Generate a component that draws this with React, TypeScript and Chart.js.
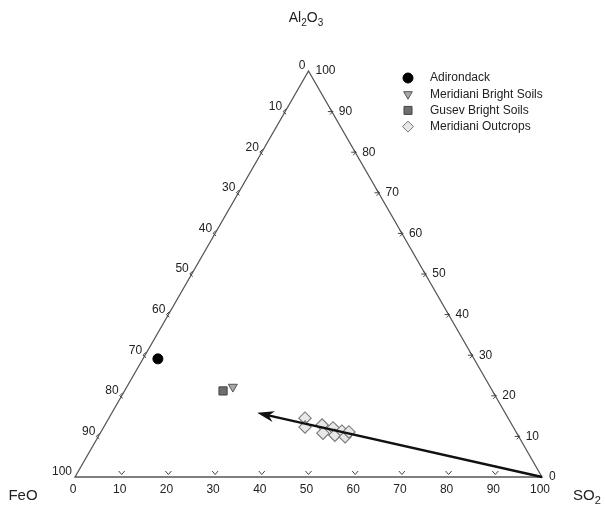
import React, { useEffect, useRef } from "react";
import { Chart, registerables } from "chart.js";

Chart.register(...registerables);

// Series names
const seriesNames = ["Adirondack", "Meridiani Bright Soils", "Gusev Bright Soils", "Meridiani Outcrops"];

// Compositions in percent: FeO, SO2, Al2O3
const adirondackFeO = [67.7];
const adirondackSO2 = [3.2];
const adirondackAl2O3 = [29.1];

const meridianiSoilFeO = [55.1];
const meridianiSoilSO2 = [22.7];
const meridianiSoilAl2O3 = [22.2];

const gusevSoilFeO = [57.7];
const gusevSoilSO2 = [21.1];
const gusevSoilAl2O3 = [21.2];

const outcropFeO = [43.5, 44.6, 40.7, 41.5, 38.7, 39.2, 37.2, 37.2, 35.8];
const outcropSO2 = [42.0, 43.1, 46.5, 47.7, 49.2, 50.5, 51.5, 52.9, 53.1];
const outcropAl2O3 = [14.5, 12.3, 12.8, 10.8, 12.1, 10.3, 11.3, 9.9, 11.1];

// Arrow from SO2 apex towards the outcrop trend (FeO, SO2, Al2O3)
const arrowStart = [0, 100, 0];
const arrowEnd = [53.1, 31.1, 15.8];

// Tick values for all three axes
const tickValues = [0, 10, 20, 30, 40, 50, 60, 70, 80, 90, 100];

function toXY(feo: number, so2: number, al: number) {
  const s = feo + so2 + al;
  const a = al / s;
  const b = so2 / s;
  return { x: b + a / 2, y: a };
}

function pts(feo: number[], so2: number[], al: number[]) {
  return feo.map((f, i) => toXY(f, so2[i], al[i]));
}

const FONT = '"Liberation Sans", Arial, sans-serif';

function drawMarker(ctx: CanvasRenderingContext2D, kind: string, x: number, y: number, fill: string, stroke: string) {
  ctx.save();
  ctx.fillStyle = fill;
  ctx.strokeStyle = stroke;
  ctx.lineWidth = 1;
  ctx.beginPath();
  if (kind === "circle") {
    ctx.arc(x, y, 5, 0, Math.PI * 2);
  } else if (kind === "tri") {
    const r = 5;
    ctx.moveTo(x, y + r);
    ctx.lineTo(x - r * 0.866, y - r / 2);
    ctx.lineTo(x + r * 0.866, y - r / 2);
    ctx.closePath();
  } else if (kind === "rect") {
    ctx.rect(x - 4, y - 4, 8, 8);
  } else {
    const r = 5.5;
    ctx.moveTo(x, y - r);
    ctx.lineTo(x + r, y);
    ctx.lineTo(x, y + r);
    ctx.lineTo(x - r, y);
    ctx.closePath();
  }
  ctx.fill();
  ctx.stroke();
  ctx.restore();
}

function drawSubText(ctx: CanvasRenderingContext2D, parts: [string, boolean][], cx: number, cy: number, size: number) {
  const big = `${size}px ${FONT}`;
  const small = `${Math.round(size * 0.7)}px ${FONT}`;
  let total = 0;
  for (const [t, sub] of parts) {
    ctx.font = sub ? small : big;
    total += ctx.measureText(t).width;
  }
  let x = cx - total / 2;
  ctx.textAlign = "left";
  ctx.textBaseline = "middle";
  for (const [t, sub] of parts) {
    ctx.font = sub ? small : big;
    ctx.fillText(t, x, sub ? cy + size * 0.35 : cy);
    x += ctx.measureText(t).width;
  }
}

const ternaryPlugin = {
  id: "ternary",
  beforeDatasetsDraw(chart: any) {
    const ctx: CanvasRenderingContext2D = chart.ctx;
    const xs = chart.scales.x;
    const ys = chart.scales.y;
    const P = (f: number, s: number, a: number) => {
      const p = toXY(f, s, a);
      return { x: xs.getPixelForValue(p.x), y: ys.getPixelForValue(p.y) };
    };
    const L = P(100, 0, 0);
    const R = P(0, 100, 0);
    const T = P(0, 0, 100);
    ctx.save();
    ctx.strokeStyle = "#555";
    ctx.lineWidth = 1.3;
    ctx.beginPath();
    ctx.moveTo(L.x, L.y);
    ctx.lineTo(R.x, R.y);
    ctx.lineTo(T.x, T.y);
    ctx.closePath();
    ctx.stroke();

    ctx.fillStyle = "#222";
    ctx.font = `12px ${FONT}`;
    ctx.lineWidth = 1;
    ctx.strokeStyle = "#444";
    for (const v of tickValues) {
      // bottom axis: SO2
      const b = P(100 - v, v, 0);
      ctx.textAlign = "center";
      ctx.textBaseline = "middle";
      ctx.fillText(String(v), b.x - 2, b.y + 13);
      // left axis: FeO
      const l = P(v, 0, 100 - v);
      ctx.textAlign = "right";
      ctx.fillText(String(v), l.x - 3, l.y - 5);
      // right axis: Al2O3
      const r = P(0, 100 - v, v);
      ctx.textAlign = "left";
      ctx.fillText(String(v), r.x + 7, r.y);
      if (v > 0 && v < 100) {
        ctx.beginPath();
        ctx.moveTo(b.x - 3, b.y - 6);
        ctx.lineTo(b.x, b.y - 2.5);
        ctx.lineTo(b.x + 3, b.y - 6);
        ctx.moveTo(l.x + 1, l.y - 3);
        ctx.lineTo(l.x - 2, l.y);
        ctx.lineTo(l.x + 1, l.y + 2.5);
        ctx.moveTo(r.x - 4, r.y);
        ctx.lineTo(r.x + 1, r.y);
        ctx.moveTo(r.x - 2, r.y - 3);
        ctx.lineTo(r.x + 1, r.y);
        ctx.lineTo(r.x - 2, r.y + 3);
        ctx.stroke();
      }
    }
    ctx.restore();
  },
  afterDatasetsDraw(chart: any) {
    const ctx: CanvasRenderingContext2D = chart.ctx;
    const xs = chart.scales.x;
    const ys = chart.scales.y;
    const a0 = toXY(arrowStart[0], arrowStart[1], arrowStart[2]);
    const a1 = toXY(arrowEnd[0], arrowEnd[1], arrowEnd[2]);
    const x0 = xs.getPixelForValue(a0.x);
    const y0 = ys.getPixelForValue(a0.y);
    const x1 = xs.getPixelForValue(a1.x);
    const y1 = ys.getPixelForValue(a1.y);
    const ang = Math.atan2(y1 - y0, x1 - x0);
    const headLen = 17;
    const headW = 5.5;
    ctx.save();
    ctx.strokeStyle = "#111";
    ctx.fillStyle = "#111";
    ctx.lineWidth = 2.4;
    ctx.beginPath();
    ctx.moveTo(x0, y0);
    ctx.lineTo(x1 - Math.cos(ang) * 8, y1 - Math.sin(ang) * 8);
    ctx.stroke();
    const bx = x1 - Math.cos(ang) * headLen;
    const by = y1 - Math.sin(ang) * headLen;
    const nx = -Math.sin(ang);
    const ny = Math.cos(ang);
    const mx = x1 - Math.cos(ang) * headLen * 0.7;
    const my = y1 - Math.sin(ang) * headLen * 0.7;
    ctx.beginPath();
    ctx.moveTo(x1, y1);
    ctx.lineTo(bx + nx * headW, by + ny * headW);
    ctx.lineTo(mx, my);
    ctx.lineTo(bx - nx * headW, by - ny * headW);
    ctx.closePath();
    ctx.fill();
    ctx.restore();
  },
  afterDraw(chart: any) {
    const ctx: CanvasRenderingContext2D = chart.ctx;
    ctx.save();
    ctx.fillStyle = "#222";
    drawSubText(ctx, [["Al", false], ["2", true], ["O", false], ["3", true]], 306, 18, 14);
    drawSubText(ctx, [["FeO", false]], 23, 496, 15);
    drawSubText(ctx, [["SO", false], ["2", true]], 587, 496, 15);

    // legend
    const kinds = ["circle", "tri", "rect", "diamond"];
    const fills = ["#000", "#a8a8a8", "#6e6e6e", "#e8e8e8"];
    const strokes = ["#000", "#555", "#444", "#777"];
    chart.data.datasets.forEach((ds: any, i: number) => {
      const y = 78 + i * 16.2;
      drawMarker(ctx, kinds[i], 408, y, fills[i], strokes[i]);
      ctx.fillStyle = "#222";
      ctx.font = `12px ${FONT}`;
      ctx.textAlign = "left";
      ctx.textBaseline = "middle";
      ctx.fillText(ds.label, 430, y);
    });
    ctx.restore();
  },
};

export default function App() {
  const ref = useRef<HTMLCanvasElement | null>(null);
  useEffect(() => {
    if (!ref.current) return;
    const chart = new Chart(ref.current, {
      type: "scatter",
      data: {
        datasets: [
          {
            label: seriesNames[0],
            data: pts(adirondackFeO, adirondackSO2, adirondackAl2O3),
            pointStyle: "circle",
            pointRadius: 5,
            backgroundColor: "#000",
            borderColor: "#000",
            borderWidth: 1,
          },
          {
            label: seriesNames[1],
            data: pts(meridianiSoilFeO, meridianiSoilSO2, meridianiSoilAl2O3),
            pointStyle: "triangle",
            rotation: 180,
            pointRadius: 5.2,
            backgroundColor: "#a8a8a8",
            borderColor: "#555",
            borderWidth: 1,
          },
          {
            label: seriesNames[2],
            data: pts(gusevSoilFeO, gusevSoilSO2, gusevSoilAl2O3),
            pointStyle: "rect",
            pointRadius: 5.8,
            backgroundColor: "#6e6e6e",
            borderColor: "#444",
            borderWidth: 1,
          },
          {
            label: seriesNames[3],
            data: pts(outcropFeO, outcropSO2, outcropAl2O3),
            pointStyle: "rectRot",
            pointRadius: 6.2,
            backgroundColor: "#e8e8e8",
            borderColor: "#777",
            borderWidth: 1.1,
          },
        ] as any,
      },
      options: {
        animation: false,
        responsive: false,
        layout: { padding: { left: 75, right: 63, top: 71, bottom: 29 } },
        scales: {
          x: { type: "linear", min: 0, max: 1, display: false },
          y: { type: "linear", min: 0, max: 1, display: false },
        },
        plugins: { legend: { display: false }, tooltip: { enabled: false } },
      },
      plugins: [ternaryPlugin],
    });
    return () => chart.destroy();
  }, []);
  return (
    <div style={{ position: "fixed", left: 0, top: 0, width: 605, height: 506, background: "#fff" }}>
      <canvas ref={ref} width={605} height={506} style={{ display: "block" }} />
    </div>
  );
}
